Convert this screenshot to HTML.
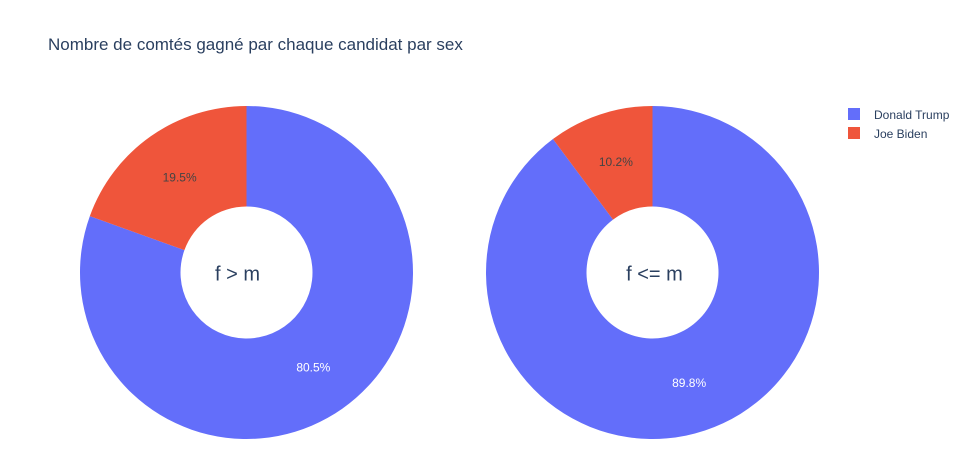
<!DOCTYPE html>
<html><head><meta charset="utf-8"><style>
body{margin:0;background:#fff;}
svg{display:block;font-family:"Liberation Sans",Arial,sans-serif;}
</style></head><body>
<svg id="chart" width="966" height="458">
<rect width="966" height="458" fill="#fff"/>
<text x="48" y="50" font-size="17" fill="#2a3f5f">Nombre de comtés gagné par chaque candidat par sex</text>
<g id="pies"></g>
<g>
<g><rect x="848" y="108" width="12" height="12" fill="#636efa"/><text x="874" y="119" font-size="12" fill="#2a3f5f">Donald Trump</text></g>
<g><rect x="848" y="127" width="12" height="12" fill="#EF553B"/><text x="874" y="138" font-size="12" fill="#2a3f5f">Joe Biden</text></g>
</g>
</svg>
<script>
const groups = ["f > m", "f <= m"];
const candidates = ["Donald Trump", "Joe Biden"];
const trumpValues = [80.5, 89.8];
const bidenValues = [19.5, 10.2];
const colors = ["#636efa", "#EF553B"];
const textColors = ["#ffffff", "#444444"];
const centersX = [246.5, 652.5];
const cy = 272.5, rO = 166.5, rI = 66;
const NS = "http://www.w3.org/2000/svg";
const pies = document.getElementById("pies");
function pt(cx, r, frac){const a = frac*2*Math.PI;return [cx + r*Math.sin(a), cy - r*Math.cos(a)];}
groups.forEach((g, gi) => {
  const vals = [trumpValues[gi], bidenValues[gi]];
  const tot = vals[0] + vals[1];
  const cx = centersX[gi];
  const grp = document.createElementNS(NS, "g");
  
  
  pies.appendChild(grp);
  let start = 0;
  vals.forEach((v, i) => {
    const f = v / tot, end = start + f;
    const large = f > 0.5 ? 1 : 0;
    const [x1,y1] = pt(cx, rO, start), [x2,y2] = pt(cx, rO, end);
    const [x3,y3] = pt(cx, rI, end), [x4,y4] = pt(cx, rI, start);
    const p = document.createElementNS(NS, "path");
    p.setAttribute("d", `M${x1},${y1} A${rO},${rO} 0 ${large} 1 ${x2},${y2} L${x3},${y3} A${rI},${rI} 0 ${large} 0 ${x4},${y4} Z`);
    p.setAttribute("fill", colors[i]);
    
    
    grp.appendChild(p);
    const [tx,ty] = pt(cx, (rO + rI)/2, start + f/2);
    const t = document.createElementNS(NS, "text");
    t.setAttribute("x", tx); t.setAttribute("y", ty + 4);
    t.setAttribute("text-anchor", "middle"); t.setAttribute("font-size", "12");
    t.setAttribute("fill", textColors[i]);
    t.textContent = (f*100).toFixed(1) + "%";
    
    
    grp.appendChild(t);
    start = end;
  });
  const c = document.createElementNS(NS, "text");
  c.setAttribute("x", cx - 9 + (gi === 0 ? 0 : 11)); c.setAttribute("y", cy + 8);
  c.setAttribute("text-anchor", "middle"); c.setAttribute("font-size", "20");
  c.setAttribute("fill", "#2a3f5f");
  c.textContent = g;
  
  
  grp.appendChild(c);
});
</script>
</body></html>
